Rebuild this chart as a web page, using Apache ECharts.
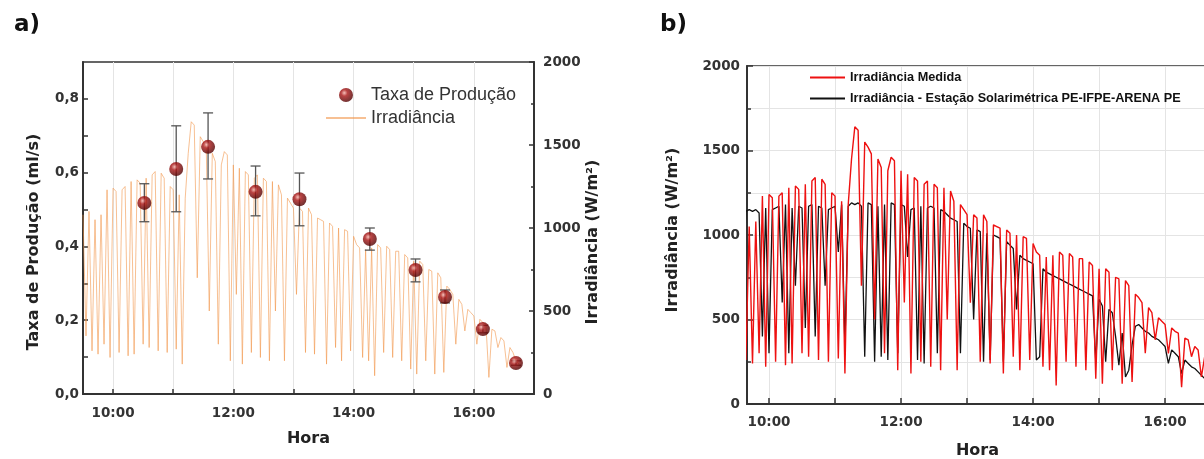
<!DOCTYPE html>
<html>
<head>
<meta charset="utf-8">
<title>Taxa de Produção / Irradiância</title>
<script src="https://cdn.jsdelivr.net/npm/echarts@6/dist/echarts.min.js"></script>
<style>
  html, body { margin: 0; padding: 0; background: #fff; }
  #main { width: 1204px; height: 459px; }
</style>
</head>
<body>
<div id="main"></div>
<script>
// amostras a cada 3 min, a partir das 9:30
var inicio = 9.5;
var passo = 3 / 60;

// Irradiância medida (W/m²)
var irradMedida = [
    1080, 350, 1100, 260, 1050, 240, 1080, 300, 1230, 220, 1240, 1220, 250, 1230, 1250, 230, 1280, 240, 1290, 1270,
    300, 1300, 280, 1320, 1340, 260, 1330, 1300, 250, 1250, 1230, 270, 1200, 180, 1180, 1450, 1640, 1620, 700, 1550,
    1520, 1480, 500, 1450, 1400, 300, 1380, 1460, 1440, 200, 1380, 600, 1360, 180, 1340, 1320, 250, 1300, 1320, 220,
    1300, 1280, 200, 1280, 500, 1260, 1200, 200, 1180, 1150, 1120, 600, 1120, 1100, 250, 1120, 1080, 240, 1060, 1050,
    1040, 180, 1030, 1010, 280, 1000, 200, 990, 980, 260, 950, 900, 880, 220, 870, 200, 880, 110, 900, 880,
    250, 890, 870, 220, 860, 860, 200, 840, 820, 150, 800, 120, 800, 780, 200, 750, 740, 120, 730, 700,
    130, 650, 630, 600, 300, 570, 540, 380, 510, 490, 470, 300, 450, 430, 420, 100, 390, 380, 280, 340,
    320, 160, 280, 250, 200, 180
];

// Estação Solarimétrica PE-IFPE-ARENA PE (W/m²)
var irradEstacao = [
    1100, 1120, 700, 1140, 1150, 1140, 1150, 1130, 400, 1160, 300, 1150, 1160, 1170, 600, 1180, 300, 1160, 700, 1170,
    1160, 450, 1170, 1180, 400, 1170, 1160, 700, 1150, 1160, 1170, 900, 1180, 340, 1170, 1190, 1180, 1190, 1170, 280,
    1190, 1180, 250, 1170, 280, 1180, 260, 1190, 1180, 300, 1180, 1170, 870, 1150, 1160, 260, 1170, 240, 1160, 1170,
    1160, 300, 1150, 1140, 1120, 1100, 1090, 1080, 300, 1070, 1050, 1040, 500, 1030, 1020, 250, 1010, 260, 1000, 990,
    980, 250, 960, 940, 920, 560, 880, 860, 850, 840, 830, 260, 280, 800, 780, 770, 760, 750, 740, 730,
    720, 710, 700, 690, 680, 670, 660, 650, 640, 250, 620, 580, 250, 560, 540, 400, 230, 420, 160, 200,
    350, 460, 470, 450, 430, 420, 400, 390, 380, 360, 340, 240, 320, 300, 280, 180, 260, 240, 220, 210,
    190, 170, 150, 130, 110, 100
];

// Taxa de produção (ml/s) com barras de erro
var taxaHora = [10.52, 11.05, 11.58, 12.37, 13.10, 14.27, 15.03, 15.52, 16.15, 16.70];
var taxaValor = [0.518, 0.610, 0.670, 0.548, 0.528, 0.420, 0.336, 0.263, 0.176, 0.084];
var taxaSup = [0.570, 0.727, 0.762, 0.618, 0.599, 0.450, 0.366, 0.282, 0.186, 0.090];
var taxaInf = [0.467, 0.494, 0.583, 0.483, 0.456, 0.390, 0.304, 0.247, 0.166, 0.078];

var horasMarcas = [10, 11, 12, 13, 14, 15, 16];
var horasRotulos = [10, 12, 14, 16];
var taxaMarcas = [0, 0.1, 0.2, 0.3, 0.4, 0.5, 0.6, 0.7, 0.8];
var taxaRotulos = [0, 0.2, 0.4, 0.6, 0.8];

function serie(valores) {
    var out = [];
    for (var i = 0; i < valores.length; i++) {
        out.push([inicio + i * passo, valores[i]]);
    }
    return out;
}

var dadosMedida = serie(irradMedida);
var dadosEstacao = serie(irradEstacao);
var dadosTaxa = [], dadosErro = [];
for (var i = 0; i < taxaHora.length; i++) {
    dadosTaxa.push([taxaHora[i], taxaValor[i]]);
    dadosErro.push([taxaHora[i], taxaInf[i], taxaSup[i]]);
}

var fonteNegrito = { fontFamily: 'DejaVu Sans', fontWeight: 'bold', fontSize: 13.5, color: '#333' };
var fonteTitulo = { fontFamily: 'DejaVu Sans', fontWeight: 'bold', fontSize: 16, color: '#222' };
var grade = { color: '#e4e4e4', width: 1 };
var eixo = { lineStyle: { color: '#333', width: 2 } };
var marca = { color: '#333', width: 1.5 };
// traço para o ícone de linha da legenda
var iconeLinha = 'path://M0,0 L40,0 L40,1.6 L0,1.6 Z';
var iconeLinhaB = 'path://M0,0 L35,0 L35,2 L0,2 Z';

function rotuloHora(v) {
    return Math.round(v) + ':00';
}
function rotuloSimples(v) {
    return String(v);
}

var esfera = {
    type: 'radial', x: 0.38, y: 0.35, r: 0.65,
    colorStops: [
        { offset: 0, color: '#f4b0a8' },
        { offset: 0.35, color: '#a81414' },
        { offset: 1, color: '#520000' }
    ]
};

var chart = echarts.init(document.getElementById('main'));
chart.setOption({
    animation: false,
    title: [
        { text: 'a)', left: 9, top: 9, textStyle: { fontFamily: 'DejaVu Sans', fontWeight: 'bold', fontSize: 23, color: '#111' } },
        { text: 'b)', left: 655, top: 9, textStyle: { fontFamily: 'DejaVu Sans', fontWeight: 'bold', fontSize: 23, color: '#111' } }
    ],
    legend: [
        {
            data: [
                { name: 'Taxa de Produção', icon: 'circle' },
                { name: 'Irradiância', icon: iconeLinha }
            ],
            orient: 'vertical', left: 321, top: 81,
            itemWidth: 40, itemHeight: 14, itemGap: 5,
            textStyle: { fontFamily: 'Liberation Sans', fontSize: 18, color: '#333' }
        },
        {
            data: [
                { name: 'Irradiância Medida', icon: iconeLinhaB, itemStyle: { color: '#ee1111' } },
                { name: 'Irradiância - Estação Solarimétrica PE-IFPE-ARENA PE', icon: iconeLinhaB, itemStyle: { color: '#111' } }
            ],
            orient: 'vertical', left: 805, top: 66,
            itemWidth: 35, itemHeight: 10, itemGap: 8,
            textStyle: { fontFamily: 'Liberation Sans', fontWeight: 'bold', fontSize: 12.7, color: '#111' }
        }
    ],
    grid: [
        { left: 83, right: 670, top: 62, bottom: 65, outerBoundsMode: 'none', show: true, borderColor: '#333', borderWidth: 1.5 },
        { left: 747, right: -4, top: 66, bottom: 55, outerBoundsMode: 'none', show: true, borderColor: '#333', borderWidth: 1.5 }
    ],
    xAxis: [
        {
            gridIndex: 0, type: 'value', min: 9.5, max: 17,
            name: 'Hora', nameLocation: 'middle', nameGap: 37, nameTextStyle: fonteTitulo,
            axisLine: eixo,
            axisTick: { inside: true, length: 5, customValues: horasMarcas, lineStyle: marca },
            axisLabel: { customValues: horasRotulos, formatter: rotuloHora, margin: 12, textStyle: fonteNegrito },
            splitLine: { show: true, lineStyle: grade }
        },
        {
            gridIndex: 1, type: 'value', min: 9 + 40 / 60, max: 16.65,
            name: 'Hora', nameLocation: 'middle', nameGap: 39, nameTextStyle: fonteTitulo,
            axisLine: eixo,
            axisTick: { inside: true, length: 6, customValues: horasMarcas, lineStyle: marca },
            axisLabel: { customValues: horasRotulos, formatter: rotuloHora, margin: 11, textStyle: fonteNegrito },
            splitLine: { show: true, lineStyle: grade }
        }
    ],
    yAxis: [
        {
            gridIndex: 0, type: 'value', min: 0, max: 0.9,
            name: 'Taxa de Produção (ml/s)', nameLocation: 'middle', nameGap: 41, nameRotate: 90,
            nameTextStyle: Object.assign({ padding: [0, 28, 0, 0] }, fonteTitulo),
            axisLine: eixo,
            axisTick: { inside: true, length: 5, customValues: taxaMarcas, lineStyle: marca },
            axisLabel: {
                customValues: taxaRotulos, margin: 4, textStyle: fonteNegrito,
                formatter: function (v) { return v.toFixed(1).replace('.', ','); }
            },
            splitLine: { show: false }
        },
        {
            gridIndex: 0, type: 'value', min: 0, max: 2000, interval: 500, position: 'right',
            name: 'Irradiância (W/m²)', nameLocation: 'middle', nameGap: 49, nameRotate: 90,
            nameTextStyle: Object.assign({ padding: [0, 28, 0, 0] }, fonteTitulo),
            axisLine: eixo,
            axisTick: { inside: true, length: 5, lineStyle: marca },
            minorTick: { show: true, splitNumber: 2, length: 3, lineStyle: marca },
            axisLabel: { margin: 9, formatter: rotuloSimples, textStyle: fonteNegrito },
            splitLine: { show: false }
        },
        {
            gridIndex: 1, type: 'value', min: 0, max: 2000, interval: 500,
            name: 'Irradiância (W/m²)', nameLocation: 'middle', nameGap: 66, nameRotate: 90,
            nameTextStyle: Object.assign({ padding: [0, 0, 0, 10] }, fonteTitulo),
            axisLine: eixo,
            axisTick: { inside: true, length: 6, lineStyle: marca },
            minorTick: { show: true, splitNumber: 2, length: 4, lineStyle: marca },
            axisLabel: { margin: 7, formatter: rotuloSimples, textStyle: fonteNegrito },
            splitLine: { show: true, lineStyle: grade },
            minorSplitLine: { show: true, lineStyle: grade }
        }
    ],
    series: [
        {
            name: 'Irradiância', type: 'line', xAxisIndex: 0, yAxisIndex: 1,
            data: dadosMedida, symbol: 'none', clip: true,
            lineStyle: { color: 'rgba(242,150,75,0.6)', width: 1 },
            itemStyle: { color: 'rgba(242,150,75,0.8)' },
            z: 2
        },
        {
            name: 'erro', type: 'custom', xAxisIndex: 0, yAxisIndex: 0,
            data: dadosErro, z: 3,
            renderItem: function (params, api) {
                var topo = api.coord([api.value(0), api.value(2)]);
                var base = api.coord([api.value(0), api.value(1)]);
                var w = 5;
                var estilo = { stroke: '#555', lineWidth: 1.3 };
                return {
                    type: 'group',
                    children: [
                        { type: 'line', shape: { x1: topo[0], y1: topo[1], x2: base[0], y2: base[1] }, style: estilo },
                        { type: 'line', shape: { x1: topo[0] - w, y1: topo[1], x2: topo[0] + w, y2: topo[1] }, style: estilo },
                        { type: 'line', shape: { x1: base[0] - w, y1: base[1], x2: base[0] + w, y2: base[1] }, style: estilo }
                    ]
                };
            }
        },
        {
            name: 'Taxa de Produção', type: 'scatter', xAxisIndex: 0, yAxisIndex: 0,
            data: dadosTaxa, symbol: 'circle', symbolSize: 14,
            itemStyle: { color: esfera },
            z: 4
        },
        {
            name: 'Irradiância - Estação Solarimétrica PE-IFPE-ARENA PE', type: 'line', xAxisIndex: 1, yAxisIndex: 2,
            data: dadosEstacao, symbol: 'none', clip: true,
            lineStyle: { color: '#111', width: 1.3 },
            itemStyle: { color: '#111' },
            z: 2
        },
        {
            name: 'Irradiância Medida', type: 'line', xAxisIndex: 1, yAxisIndex: 2,
            data: dadosMedida, symbol: 'none', clip: true,
            lineStyle: { color: '#ee1111', width: 1.4 },
            itemStyle: { color: '#ee1111' },
            z: 3
        }
    ]
});
</script>
</body>
</html>
